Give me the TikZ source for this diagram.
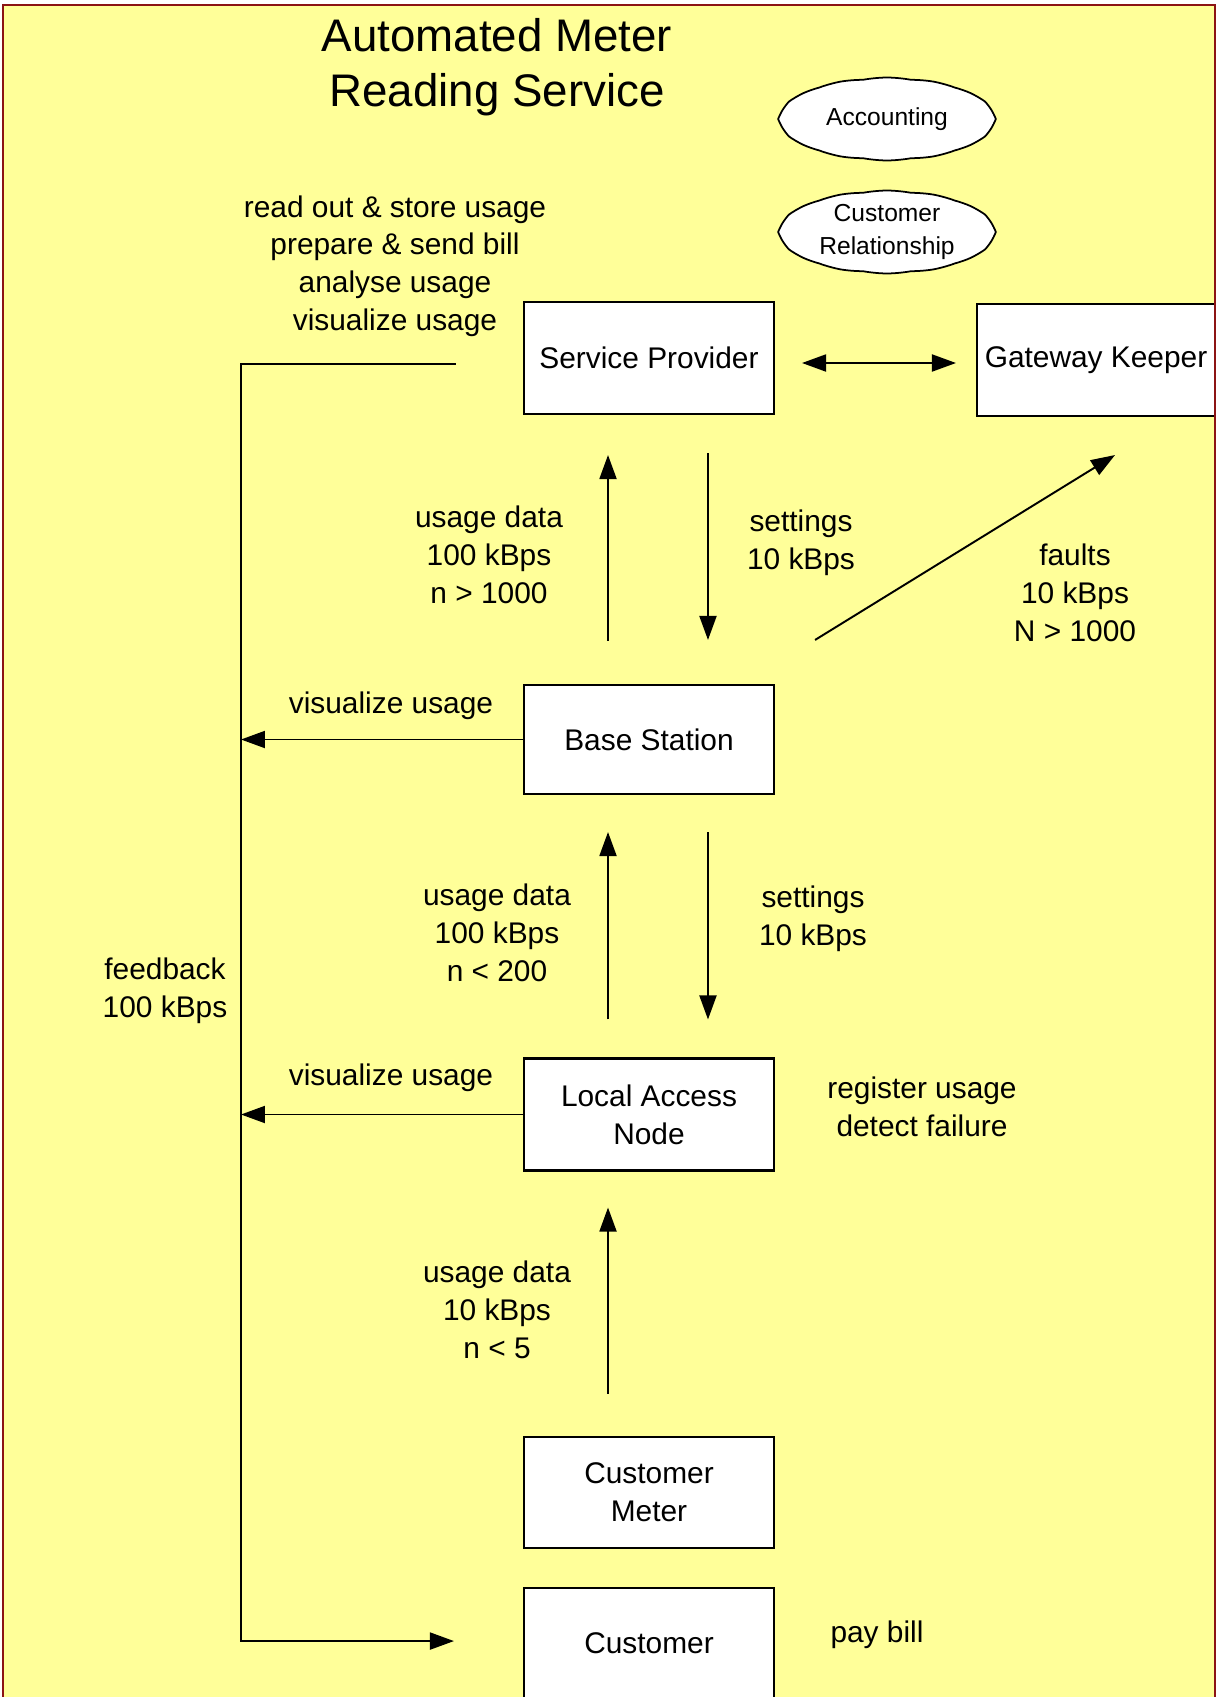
\documentclass[tikz,border=0pt]{standalone}
\usepackage{fontspec}
\setmainfont{Liberation Sans}
\usepackage{tikz}
\usetikzlibrary{positioning,calc,shapes,arrows.meta}
\definecolor{myyellow}{RGB}{255,255,153}
\definecolor{myred}{RGB}{140,20,20}
\tikzstyle{box}=[draw,fill=white,line width=1.2pt,minimum width=5cm,minimum height=2.24cm,align=center]
\tikzstyle{puff}=[draw,fill=white,cloud,cloud puffs=14,cloud puff arc=22,cloud ignores aspect,inner sep=0pt,line width=1pt,minimum width=4.28cm,minimum height=1.66cm,align=center,font=\fontsize{14}{18.4}\selectfont]
\tikzstyle{txt}=[align=center]
\tikzstyle{flow}=[-{Triangle[length=0.48cm,width=0.34cm]},line width=1.1pt]
\tikzstyle{both}=[flow,{Triangle[length=0.48cm,width=0.34cm]}-{Triangle[length=0.48cm,width=0.34cm]}]

\begin{document}
\begin{tikzpicture}[x=0.02cm,y=-0.02cm,font=\fontsize{17}{21.5}\selectfont]
\useasboundingbox (0,0) rectangle (1217,1697);
\fill[myyellow] (3,5) rectangle (1215,1697);

\node (title) [txt,font=\fontsize{26}{31.2}\selectfont] at (497,67) {Automated Meter\\Reading Service};
\node (acc) [puff] at (887,119) {Accounting};
\node (cr) [puff] at (887,232) {Customer\\Relationship};

\node (sp) [box] at (649,358) {Service Provider};
\node (gk) [box,minimum width=4.76cm] at (1096,360) {Gateway Keeper};
\node (bs) [box,minimum height=2.18cm] at (649,739.5) {Base Station};
\node (lan) [box] at (649,1114.5) {Local Access\\Node};
\node (cm) [box,minimum height=2.22cm] at (649,1492.5) {Customer\\Meter};
\node (cu) [box,anchor=north,inner sep=0pt,text height=1.3cm,text depth=1.3cm] at (649,1587) {Customer};

\node (tasks) [txt] at (395,266) {read out \& store usage\\prepare \& send bill\\analyse usage\\visualize usage};
\node (up1) [txt] at (489,555) {usage data\\100 kBps\\n > 1000};
\node (set1) [txt] at (801,543) {settings\\10 kBps};
\node (flt) [txt] at (1075,593) {faults\\10 kBps\\N > 1000};
\node (vis1) [txt] at (391,706) {visualize usage};
\node (up2) [txt] at (497,933) {usage data\\100 kBps\\n < 200};
\node (set2) [txt] at (813,919) {settings\\10 kBps};
\node (fbk) [txt] at (165,991) {feedback\\100 kBps};
\node (vis2) [txt] at (391,1078) {visualize usage};
\node (reg) [txt] at (922,1107) {register usage\\detect failure};
\node (up3) [txt] at (497,1310) {usage data\\10 kBps\\n < 5};
\node (pay) [txt] at (877,1635) {pay bill};

\coordinate (fb) at (241,364);

\draw[both,shorten <=0.54cm,shorten >=0.4cm] ([shift={(0,5)}]sp.east) -- ([shift={(0,5)}]sp.east -| gk.west);
\draw[flow,shorten <=0.86cm,shorten >=0.8cm] ([xshift=-0.82cm]bs.north) -- ([xshift=-0.82cm]sp.south);
\draw[flow,shorten <=0.76cm,shorten >=0.88cm] ([xshift=1.18cm]sp.south) -- ([xshift=1.18cm]bs.north);
\draw[flow] ([shift={(40,-44)}]bs.north east) -- ([shift={(19,38)}]gk.south);
\draw[flow,shorten <=0.76cm,shorten >=0.74cm] ([xshift=-0.82cm]lan.north) -- ([xshift=-0.82cm]bs.south);
\draw[flow,shorten <=0.74cm,shorten >=0.76cm] ([xshift=1.18cm]bs.south) -- ([xshift=1.18cm]lan.north);
\draw[flow,shorten <=0.84cm,shorten >=0.72cm] ([xshift=-0.82cm]cm.north) -- ([xshift=-0.82cm]lan.south);
\draw[flow] (bs.west) -- (bs.west -| fb);
\draw[flow] (lan.west) -- (lan.west -| fb);
\draw[flow] ([shift={(-67,6)}]sp.west) -- (fb) |- ([shift={(-69,-12)}]cu.west);

\draw[myred,line width=1.2pt] (3,1700) -- (3,5) -- (1215,5) -- (1215,1700);
\end{tikzpicture}
\end{document}
